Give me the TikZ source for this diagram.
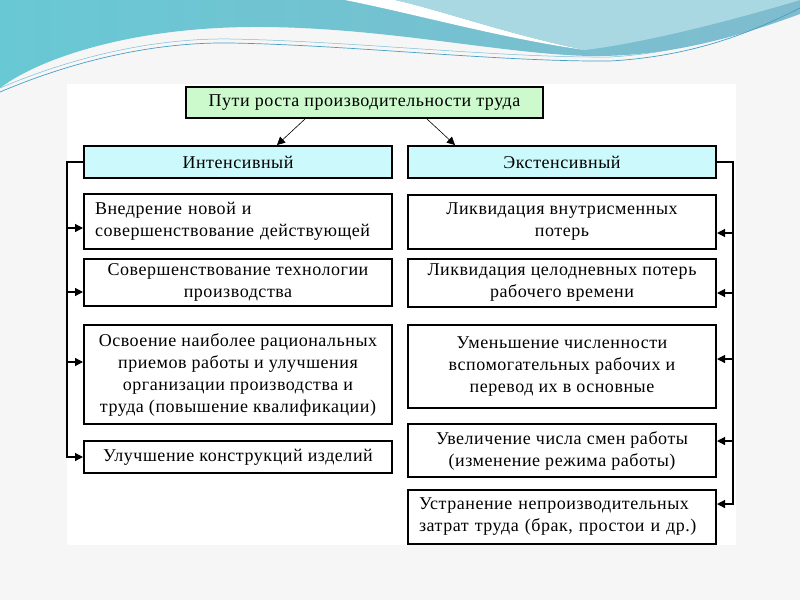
\documentclass[tikz,border=0pt]{standalone}
\usepackage{fontspec}
\setmainfont{Liberation Serif}[LetterSpace=3]
\usetikzlibrary{arrows.meta}
\usetikzlibrary{positioning}
\definecolor{pagebg}{RGB}{246,246,246}
\definecolor{wavedark}{RGB}{128,188,206}
\definecolor{wavecyan}{RGB}{104,200,212}
\definecolor{wavelight}{RGB}{170,216,226}
\definecolor{waveline}{RGB}{70,160,198}
\definecolor{titlefill}{RGB}{204,250,204}
\definecolor{headfill}{RGB}{204,250,252}
\tikzset{
  box/.style = {draw, line width=2pt, fill=white, inner sep=5pt,
    minimum width=308pt, align=center,
    font=\fontsize{18}{22}\selectfont},
  head/.style = {box, fill=headfill, minimum height=32pt},
  bus/.style = {line width=1.2pt},
  tip/.style = {bus, -{Triangle[length=8pt,width=8pt]}},
}

\begin{document}
\begin{tikzpicture}[x=1pt, y=-1pt]
    \useasboundingbox (0,0) rectangle (800,600);
    \fill[pagebg] (0,0) rectangle (800,600);
    \fill[white] (67,84) rectangle (736,545);
    % wave on top
    \shade[left color=wavecyan, right color=wavedark]
      (0,0) -- (800,0) -- (800,14) .. controls (740,36) and (670,57) .. (590,56)
      .. controls (500,54) and (380,26) .. (250,27)
      .. controls (130,28) and (40,58) .. (0,88) -- cycle;
    \fill[white] (345,0) .. controls (420,15) and (500,38) .. (585,50)
      .. controls (510,35) and (440,10) .. (395,0) -- cycle;
    \fill[wavelight] (395,0) .. controls (440,10) and (510,35) .. (585,50)
      .. controls (650,42) and (740,18) .. (800,0) -- cycle;
    \draw[waveline, line width=0.7pt] (0,92) .. controls (80,58) and (160,42) .. (230,43)
      .. controls (350,45) and (500,62) .. (610,61) .. controls (700,56) and (760,28) .. (800,8);
    \draw[waveline!70, line width=0.5pt] (0,88) .. controls (80,54) and (160,38) .. (230,39)
      .. controls (350,41) and (500,58) .. (610,57) .. controls (700,52) and (760,22) .. (800,2);

    \node [box, fill=titlefill, minimum width=357pt, minimum height=31pt] (title) at (364.5,102.5)
      {Пути роста производительности труда};
    \node [head] (intens) at (238,162) {Интенсивный};
    \node [head] (extens) at (562,162) {Экстенсивный};

    \node [box, minimum height=55pt, text width=286pt, align=left] (i1) at (238,221.5)
      {Внедрение новой и\\совершенствование действующей};
    \node [box, minimum height=45pt] (i2) at (238,282.5)
      {Совершенствование технологии\\производства};
    \node [box, minimum height=99pt] (i3) at (238,374.5)
      {Освоение наиболее рациональных\\приемов работы и улучшения\\организации производства и\\труда (повышение квалификации)};
    \node [box, minimum height=32pt] (i4) at (238,457)
      {Улучшение конструкций изделий};

    \node [box, minimum height=54pt] (e1) at (562,222)
      {Ликвидация внутрисменных\\потерь};
    \node [box, minimum height=44pt] (e2) at (562,283)
      {Ликвидация целодневных потерь\\рабочего времени};
    \node [box, minimum height=83pt] (e3) at (562,366.5)
      {Уменьшение численности\\вспомогательных рабочих и\\перевод их в основные};
    \node [box, minimum height=53pt] (e4) at (562,450.5)
      {Увеличение числа смен работы\\(изменение режима работы)};
    \node [box, minimum height=54pt, text width=286pt, align=left] (e5) at (562,517)
      {Устранение непроизводительных\\затрат труда (брак, простои и др.)};

    \draw [line width=0.6pt, -{Triangle[length=8pt,width=8pt]}]
      ([xshift=-59.5pt]title.south) -- ([xshift=39pt]intens.north);
    \draw [line width=0.6pt, -{Triangle[length=8pt,width=8pt]}]
      ([xshift=62.5pt]title.south) -- ([xshift=-107pt]extens.north);

    \coordinate (lbus) at (67,162);
    \coordinate (rbus) at (733,162);
    \draw [tip] (intens.west) -- (lbus) |- (i4.west);
    \draw [tip] ([yshift=-6.5pt]i1.west -| lbus) -- ([yshift=-6.5pt]i1.west);
    \draw [tip] ([yshift=-9.5pt]i2.west -| lbus) -- ([yshift=-9.5pt]i2.west);
    \draw [tip] ([yshift=12.5pt]i3.west -| lbus) -- ([yshift=12.5pt]i3.west);

    \draw [tip] (extens.east) -- (rbus) |- ([yshift=13pt]e5.east);
    \draw [tip] ([yshift=-11pt]e1.east -| rbus) -- ([yshift=-11pt]e1.east);
    \draw [tip] ([yshift=-10pt]e2.east -| rbus) -- ([yshift=-10pt]e2.east);
    \draw [tip] ([yshift=7.5pt]e3.east -| rbus) -- ([yshift=7.5pt]e3.east);
    \draw [tip] ([yshift=9.5pt]e4.east -| rbus) -- ([yshift=9.5pt]e4.east);
  \end{tikzpicture}
\end{document}
